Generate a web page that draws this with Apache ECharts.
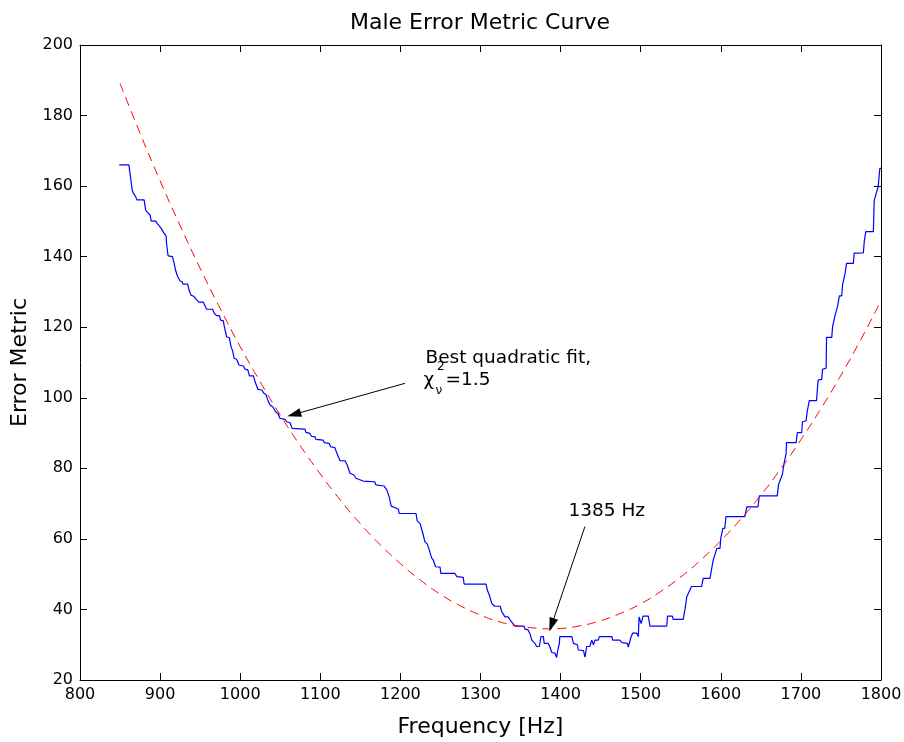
<!DOCTYPE html>
<html>
<head>
<meta charset="utf-8">
<script src="https://cdn.jsdelivr.net/npm/echarts@6/dist/echarts.min.js"></script>
<style>
html,body{margin:0;padding:0;background:#fff;}
#chart{width:904px;height:742px;}
</style>
</head>
<body>
<div id="chart"></div>
<script>
// Measured error metric (frequency [Hz], error metric) — staircase corners
const measured = [[849,166.0],[861,166.0],[863,162.7],[865,159.1],[866.5,158.0],[869.5,157.0],[871,156.1],[880,156.1],[882,153.2],[884.5,152.5],[887.5,151.8],[889,150.1],[894.5,150.1],[896,149.5],[899,148.7],[902,147.8],[905,146.6],[907.5,145.9],[908,143.8],[910,140.2],[915.5,140.0],[917.5,138.1],[919.5,136.0],[922,134.3],[925,133.1],[927.5,132.9],[928.5,132.2],[934.5,132.2],[936,130.6],[938.5,129.1],[942.5,128.7],[945,127.9],[948.5,127.1],[954,127.1],[958,125.1],[965.5,125.1],[967.5,124.0],[970.5,123.3],[974,123.3],[975.5,122.0],[979,121.8],[980,120.4],[983,117.3],[986.5,117.0],[988.5,114.5],[990.5,113.3],[992.5,111.2],[995.5,110.9],[998.5,109.3],[1004,109.0],[1006,108.1],[1009.5,107.9],[1011.5,106.2],[1016.5,106.2],[1018.5,104.6],[1022,102.4],[1027,102.2],[1029.5,101.3],[1032,101.0],[1034,99.6],[1037,98.0],[1041,97.3],[1044,96.1],[1047.5,95.4],[1049.5,94.2],[1056,93.9],[1058,93.2],[1062,93.0],[1065,91.3],[1081,91.1],[1082,90.2],[1087,89.9],[1089,89.1],[1093.5,88.9],[1094.5,88.2],[1103.5,88.0],[1105,87.3],[1111,87.1],[1113,86.1],[1118,85.9],[1122.5,83.3],[1124.5,82.2],[1131,82.1],[1133.5,81.0],[1137,78.6],[1142,78.1],[1144.5,77.2],[1153.5,76.4],[1168,76.2],[1169.5,75.3],[1179.5,75.0],[1183,73.9],[1186,71.9],[1188.5,69.3],[1193,68.9],[1197.5,68.4],[1198.5,67.2],[1219.5,67.2],[1221,65.1],[1224.5,64.4],[1228,61.6],[1230.5,59.2],[1233.5,58.6],[1236,56.9],[1239,54.6],[1241,54.0],[1244,52.1],[1249.5,52.0],[1250.5,50.2],[1268,50.2],[1270.5,49.3],[1278.5,49.1],[1279.5,47.2],[1307,47.2],[1308.5,45.5],[1311,44.1],[1314,41.7],[1318,40.9],[1324.5,40.9],[1326.5,39.4],[1330.5,37.9],[1334.5,37.9],[1337,37.0],[1343,35.3],[1354.5,35.3],[1355.5,34.4],[1359.5,34.2],[1362,33.0],[1364,31.3],[1368,30.4],[1370,29.5],[1373.5,29.5],[1375.5,32.3],[1378.5,32.3],[1379.5,30.4],[1384.5,30.4],[1386.5,29.5],[1389,27.8],[1393,27.6],[1395,26.4],[1397,29.0],[1398.5,30.4],[1399,32.3],[1414,32.3],[1416,30.4],[1421,30.0],[1422,28.5],[1428.5,28.3],[1430.5,26.5],[1432.5,29.5],[1436.5,29.5],[1439,31.3],[1441,30.0],[1443,31.3],[1447,31.3],[1448.5,32.3],[1464,32.3],[1465,31.3],[1474,31.3],[1476.5,30.6],[1483.5,30.4],[1484.5,29.3],[1486.5,29.3],[1487.5,31.9],[1490,33.3],[1495,33.3],[1497,32.3],[1498,37.9],[1500.5,36.0],[1502,36.0],[1503,38.1],[1509.5,38.1],[1511.5,35.3],[1532.5,35.3],[1533.5,38.1],[1539.5,38.1],[1540.5,37.2],[1553,37.2],[1555.5,40.3],[1557.5,43.6],[1563.5,46.5],[1576,46.5],[1578,48.8],[1586.5,48.8],[1588.5,51.4],[1590.5,54.0],[1592.5,55.4],[1595,57.3],[1599,57.3],[1600,60.2],[1602.5,63.0],[1605,63.0],[1606.5,66.3],[1630,66.3],[1632.5,69.1],[1646.5,69.1],[1648,72.2],[1670.5,72.2],[1672,75.3],[1677,78.4],[1679,81.4],[1681.5,84.2],[1682,87.3],[1694,87.3],[1695.5,90.1],[1701,90.1],[1702,93.2],[1706.5,93.5],[1708,96.3],[1710.5,99.2],[1719.5,99.2],[1721.5,105.0],[1726,105.2],[1727,108.1],[1731.5,108.4],[1732,117.1],[1738.5,117.1],[1739.5,120.1],[1742.5,123.2],[1744.5,123.2],[1746,126.1],[1748,128.9],[1751,128.9],[1752,132.0],[1755,135.1],[1757,138.1],[1765.5,138.1],[1766.5,141.0],[1778,141.1],[1779,144.1],[1781,147.1],[1790.5,147.1],[1791.5,155.9],[1793.5,156.0],[1795.5,159.1],[1796.5,159.8],[1798.5,165.0],[1800,165.0]];

// Quadratic fit
const fitFreq = [850,875,900,925,950,975,1000,1025,1050,1075,1100,1125,1150,1175,1200,1225,1250,1275,1300,1325,1350,1375,1385,1400,1425,1450,1475,1500,1525,1550,1575,1600,1625,1650,1675,1700,1725,1750,1775,1800];
const fitVal  = [189.1,175.0,161.5,148.8,136.7,125.3,114.5,104.5,95.1,86.4,78.4,71.0,64.3,58.3,53.0,48.3,44.3,41.0,38.4,36.4,35.2,34.6,34.5,34.6,35.4,36.8,38.9,41.6,45.1,49.2,54.0,59.5,65.6,72.4,79.9,88.1,96.9,106.4,116.6,127.5];

const xTicks = [800,900,1000,1100,1200,1300,1400,1500,1600,1700,1800];
const yTicks = [20,40,60,80,100,120,140,160,180,200];

const titleText = 'Male Error Metric Curve';
const xName = 'Frequency [Hz]';
const yName = 'Error Metric';
const fitNote = 'Best quadratic fit,';
const minNote = '1385 Hz';

const FONT = 'DejaVu Sans';
const chart = echarts.init(document.getElementById('chart'), null, {renderer: 'canvas'});

const fitData = fitFreq.map((f, i) => [f, fitVal[i]]);

const txt = (coord, text, size) => ({
  coord: coord, symbol: 'circle', symbolSize: 1,
  itemStyle: {color: 'rgba(0,0,0,0)'},
  label: {show: true, position: 'right', distance: 0, formatter: text,
          color: '#000', fontFamily: FONT, fontSize: size, align: 'left', verticalAlign: 'middle'}
});

const baseAxis = {
  axisLine: {show: true, onZero: false, lineStyle: {color: '#000', width: 1}},
  axisTick: {show: true, inside: true, length: 7, lineStyle: {color: '#000', width: 1}},
  splitLine: {show: false}
};

const option = {
  animation: false,
  backgroundColor: '#fff',
  grid: {left: 80, right: 23, top: 45, bottom: 62, containLabel: false, outerBoundsMode: 'none'},
  graphic: [{
    type: 'text', x: 480, y: 23,
    style: {text: titleText, font: '22px "DejaVu Sans"', fill: '#000', textAlign: 'center', textVerticalAlign: 'middle'}
  }],
  xAxis: [
    Object.assign({}, baseAxis, {
      type: 'value', position: 'bottom', min: 800, max: 1800, interval: 100,
      axisLabel: {color: '#000', fontFamily: FONT, fontSize: 16, margin: 7,
                  formatter: v => xTicks.includes(v) ? String(v) : ''},
      name: xName, nameLocation: 'middle', nameGap: 36,
      nameTextStyle: {color: '#000', fontFamily: FONT, fontSize: 22}
    }),
    Object.assign({}, baseAxis, {
      type: 'value', position: 'top', min: 800, max: 1800, interval: 100,
      axisLabel: {show: false}
    })
  ],
  yAxis: [
    Object.assign({}, baseAxis, {
      type: 'value', position: 'left', min: 20, max: 200, interval: 20,
      axisLabel: {color: '#000', fontFamily: FONT, fontSize: 16, margin: 7,
                  formatter: v => yTicks.includes(v) ? String(v) : ''},
      name: yName, nameLocation: 'middle', nameGap: 44, nameRotate: 90,
      nameTextStyle: {color: '#000', fontFamily: FONT, fontSize: 22}
    }),
    Object.assign({}, baseAxis, {
      type: 'value', position: 'right', min: 20, max: 200, interval: 20,
      axisLabel: {show: false}
    })
  ],
  series: [
    {
      type: 'line', name: 'measured', xAxisIndex: 0, yAxisIndex: 0,
      data: measured, showSymbol: false, symbol: 'none', smooth: false,
      lineStyle: {color: '#0000ff', width: 1.2}, z: 2
    },
    {
      type: 'line', name: 'fit', xAxisIndex: 0, yAxisIndex: 0,
      data: fitData, showSymbol: false, symbol: 'none', smooth: true,
      lineStyle: {color: '#ff0000', width: 1, type: [9, 6]}, z: 3,
      markLine: {
        silent: true, animation: false,
        symbol: ['none', 'triangle'], symbolSize: [9, 14],
        lineStyle: {color: '#000', width: 1, type: 'solid'},
        label: {show: false},
        data: [
          [{coord: [1205.7, 104.1]}, {coord: [1067.2, 95.3]}],
          [{coord: [1430.4, 63.5]}, {coord: [1388.8, 35.6]}]
        ]
      },
      markPoint: {
        silent: true, animation: false,
        data: [
          txt([1230.7, 111.3], fitNote, 18.5),
          txt([1228.2, 104.9], 'χ', 18.5),
          txt([1245.0, 108.9], '2', 12),
          txt([1243.2, 101.9], 'ν', 12),
          txt([1255.7, 105.0], '=1.5', 18.5),
          txt([1409.2, 67.9], minNote, 18.5)
        ]
      }
    }
  ]
};
chart.setOption(option);
</script>
</body>
</html>
